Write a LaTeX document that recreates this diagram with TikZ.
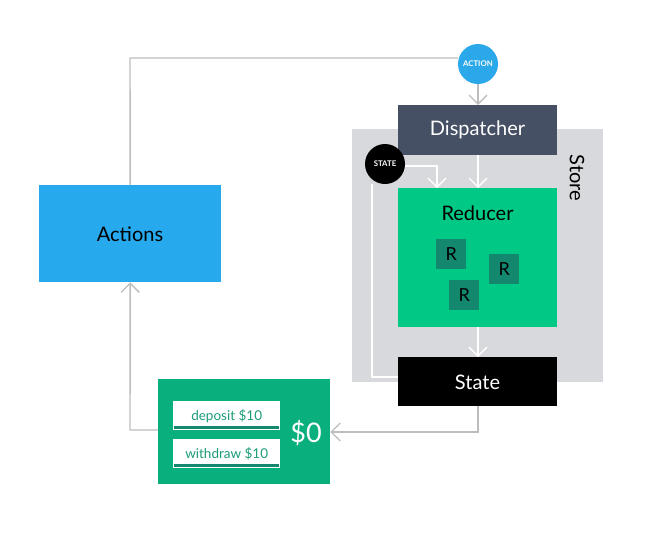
\documentclass[tikz,border=0pt]{standalone}
\usepackage{fontspec}
\setmainfont{Lato}
\usetikzlibrary{arrows.meta}
\definecolor{actblue}{HTML}{27A9EE}
\definecolor{circblue}{HTML}{2AA8E9}
\definecolor{dispgray}{HTML}{465064}
\definecolor{storegray}{HTML}{D8D9DD}
\definecolor{redgreen}{HTML}{00C986}
\definecolor{rbox}{HTML}{14876F}
\definecolor{moneygreen}{HTML}{0AAF7E}
\definecolor{btntext}{HTML}{1C9C7A}
\definecolor{linegray}{HTML}{BDBDBD}
\tikzset{
  box/.style={draw=none, inner sep=0pt, anchor=north west},
  conn/.style={draw=linegray, line width=1.4pt},
  wconn/.style={draw=white, line width=1.4pt},
  tip/.style={-{Straight Barb[length=9pt,width=18pt,line width=1.3pt]}},
  biglbl/.style={font=\fontsize{20pt}{20pt}\selectfont},
  rsq/.style={fill=rbox, minimum width=30pt, minimum height=30pt, inner sep=0pt, anchor=north west, font=\fontsize{18pt}{18pt}\selectfont},
  btn/.style={fill=white, minimum width=107pt, minimum height=29pt, inner sep=0pt, anchor=north west, text=btntext, font=\fontsize{13.5pt}{13.5pt}\selectfont},
  smallcirc/.style={circle, minimum size=40pt, inner sep=0pt, text=white, font=\bfseries\fontsize{7.8pt}{7.8pt}\selectfont}
}
\begin{document}
\begin{tikzpicture}[x=1pt,y=-1pt]
\useasboundingbox (0,0) rectangle (662,536);
% store background
\node[box, fill=storegray, minimum width=251pt, minimum height=253pt] (store) at (352,129) {};
\node[rotate=-90, biglbl] (storelbl) at (577,178) {Store};
% boxes
\node[box, fill=actblue, minimum width=182pt, minimum height=97pt] (actions) at (39,185) {};
\node[biglbl] (actionslbl) at (130,234) {Actions};
\node[box, fill=dispgray, minimum width=159pt, minimum height=50pt] (disp) at (398,105) {};
\node[text=white, biglbl] (displbl) at (477.5,130) {Dispatcher};
\node[box, fill=redgreen, minimum width=159pt, minimum height=139pt] (red) at (398,188) {};
\node[biglbl] (redlbl) at (477.5,213) {Reducer};
\node[rsq] (r1) at (436,239) {R};
\node[rsq] (r2) at (489,254) {R};
\node[rsq] (r3) at (449,280) {R};
\node[box, fill=black, minimum width=159pt, minimum height=49pt] (state) at (398,357) {};
\node[text=white, biglbl] (statelbl) at (477.5,382) {State};
% money box
\node[box, fill=moneygreen, minimum width=172pt, minimum height=105pt] (money) at (158,379) {};
\node[btn] (dep) at (173,401) {deposit \$10};
\node[btn] (wd) at (173,439) {withdraw \$10};
\fill[rbox] ([xshift=1pt,yshift=1pt]dep.south west) rectangle ([xshift=-1pt,yshift=4.5pt]dep.south east);
\fill[rbox] ([xshift=1pt,yshift=1pt]wd.south west) rectangle ([xshift=-1pt,yshift=4.5pt]wd.south east);
\node[text=white, font=\fontsize{27pt}{27pt}\selectfont] (zero) at (306,433) {\$0};
% circles
\node[smallcirc, fill=circblue] (action) at (478,64) {ACTION};
\node[smallcirc, fill=black] (stc) at (385,164) {STATE};
% connectors
\coordinate (tl) at (130,58);
\draw[conn] (actions.north) -- (tl) -- (action.west |- tl);
\draw[conn, tip] (action.south) -- (disp.north -| action.south);
\draw[wconn, tip] (disp.south -| 478,0) -- (red.north -| 478,0);
\coordinate (sb) at (437,166);
\draw[wconn, tip] (stc.east |- sb) -- (sb) -- (red.north -| sb);
\coordinate (ls) at (372,377);
\draw[wconn] (stc.south -| ls) -- (ls) -- (state.west |- ls);
\draw[wconn, tip] (red.south -| 478,0) -- (state.north -| 478,0);
\coordinate (sr) at (478,432);
\draw[conn, tip] (state.south -| sr) -- (sr) -- (money.east |- sr);
\coordinate (ml) at (130,430);
\draw[conn, tip] (money.west |- ml) -- (ml) -- (actions.south);
\end{tikzpicture}
\end{document}
